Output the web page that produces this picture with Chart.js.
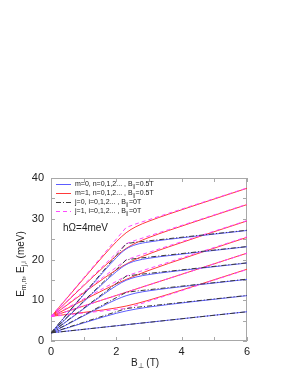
<!DOCTYPE html>
<html>
<head>
<meta charset="utf-8">
<script src="https://cdn.jsdelivr.net/npm/chart.js@4/dist/chart.umd.min.js"></script>
<style>
    body { margin: 0; background: #ffffff; }
    canvas { display: block; }
</style>
</head>
<body>
<canvas id="grafico" width="298" height="385"></canvas>
<script>

// DATOS
const campoB = [0, 1, 1.6, 2, 2.3, 2.6, 3, 3.6, 4.5, 6];

// m=0, n=0..5, B||=0.5T
const nivelesM0 = [
    [2.00, 2.86, 3.38, 3.73, 3.99, 4.25, 4.59, 5.11, 5.89, 7.18],
    [1.95, 4.44, 5.90, 6.80, 7.37, 7.84, 8.34, 8.96, 9.80, 11.13],
    [1.95, 6.17, 8.65, 10.18, 11.11, 11.76, 12.32, 12.95, 13.79, 15.13],
    [1.95, 7.89, 11.40, 13.58, 14.90, 15.70, 16.31, 16.95, 17.79, 19.13],
    [1.95, 9.62, 14.17, 17.02, 18.73, 19.68, 20.31, 20.95, 21.79, 23.13],
    [1.95, 11.35, 16.92, 20.45, 22.57, 23.65, 24.30, 24.95, 25.79, 27.12]
];

// m=1, n=0..5, B||=0.5T
const nivelesM1 = [
    [6.05, 7.01, 7.63, 8.12, 8.57, 9.14, 10.03, 11.48, 13.76, 17.61],
    [6.00, 8.59, 10.15, 11.18, 11.96, 12.74, 13.78, 15.33, 17.66, 21.55],
    [5.95, 10.04, 12.48, 14.02, 15.10, 16.10, 17.34, 19.04, 21.48, 25.44],
    [5.95, 11.82, 15.29, 17.45, 18.88, 20.07, 21.38, 23.09, 25.52, 29.46],
    [5.95, 13.57, 18.09, 20.91, 22.72, 24.07, 25.41, 27.12, 29.53, 33.48],
    [5.95, 15.31, 20.87, 24.36, 26.56, 28.05, 29.42, 31.13, 33.54, 37.48]
];

// j=0, i=0..5, B||=0T
const nivelesJ0 = [
    [2, 2.86, 3.38, 3.73, 3.99, 4.25, 4.59, 5.11, 5.89, 7.18],
    [2, 4.59, 6.15, 7.18, 7.96, 8.25, 8.59, 9.11, 9.89, 11.18],
    [2, 6.32, 8.91, 10.64, 11.94, 12.25, 12.59, 13.11, 13.89, 15.18],
    [2, 8.05, 11.68, 14.10, 15.92, 16.25, 16.59, 17.11, 17.89, 19.18],
    [2, 9.78, 14.44, 17.55, 19.89, 20.25, 20.59, 21.11, 21.89, 23.18],
    [2, 11.50, 17.21, 21.01, 23.87, 24.25, 24.59, 25.11, 25.89, 27.18]
];

// j=1, i=0..5, B||=0T
const nivelesJ1 = [
    [6, 6.86, 7.38, 7.73, 7.99, 8.74, 9.78, 11.33, 13.66, 17.55],
    [6, 8.59, 10.15, 11.18, 11.96, 12.74, 13.78, 15.33, 17.66, 21.55],
    [6, 10.32, 12.91, 14.64, 15.94, 16.74, 17.78, 19.33, 21.66, 25.55],
    [6, 12.05, 15.68, 18.10, 19.91, 20.74, 21.78, 23.33, 25.66, 29.55],
    [6, 13.78, 18.44, 21.55, 23.88, 24.74, 25.78, 27.33, 29.66, 33.55],
    [6, 15.50, 21.21, 25.01, 27.86, 28.74, 29.78, 31.33, 33.66, 37.55]
];

const ticksX = [0, 1, 2, 3, 4, 5, 6];
const ticksY = [0, 5, 10, 15, 20, 25, 30, 35, 40];

const fuente = '"Liberation Sans", Arial, sans-serif';

const colorAzul = '#5c5cff';
const colorRojo = '#ff3a3a';
const colorGris = '#3a3a3a';
const colorMagenta = '#ff48ff';

function serie(valores) {
    return valores.map((e, i) => ({ x: campoB[i], y: e }));
}

const datasets = [];

// discontinuas encima
nivelesJ0.forEach(v => {
    datasets.push({
        data: serie(v),
        borderColor: colorGris,
        borderDash: [5, 2, 1, 2],
        borderWidth: 1,
        pointRadius: 0,
        tension: 0,
        order: 0
    });
});

nivelesJ1.forEach(v => {
    datasets.push({
        data: serie(v),
        borderColor: colorMagenta,
        borderDash: [4, 3],
        borderWidth: 1,
        pointRadius: 0,
        tension: 0,
        order: 0
    });
});

nivelesM0.forEach(v => {
    datasets.push({
        data: serie(v),
        borderColor: colorAzul,
        borderWidth: 1,
        pointRadius: 0,
        cubicInterpolationMode: 'monotone',
        order: 1
    });
});

nivelesM1.forEach(v => {
    datasets.push({
        data: serie(v),
        borderColor: colorRojo,
        borderWidth: 1,
        pointRadius: 0,
        cubicInterpolationMode: 'monotone',
        order: 1
    });
});

// texto con subindices: partes alternan normal / subindice
function textoSub(ctx, partes, x, y, tam, centrar) {

    let ancho = 0;

    partes.forEach((p, i) => {
        ctx.font = (i % 2 ? tam * 0.7 : tam) + 'px ' + fuente;
        ancho += ctx.measureText(p).width;
    });

    let cx = centrar ? x - ancho / 2 : x;

    partes.forEach((p, i) => {
        const sub = i % 2 === 1;
        ctx.font = (sub ? tam * 0.7 : tam) + 'px ' + fuente;
        ctx.fillText(p, cx, sub ? y + tam * 0.35 : y);
        cx += ctx.measureText(p).width;
    });
}

const decoracion = {

    id: 'decoracion',

    beforeDatasetsDraw(chart) {

        const ctx = chart.ctx;
        const area = chart.chartArea;
        const sx = chart.scales.x;
        const sy = chart.scales.y;

        ctx.save();
        ctx.strokeStyle = '#a8a8a8';
        ctx.lineWidth = 1;

        ctx.strokeRect(
            area.left + 0.5,
            area.top + 0.5,
            area.right - area.left - 1,
            area.bottom - area.top - 1
        );

        ctx.beginPath();

        ticksX.forEach(b => {
            const px = Math.round(sx.getPixelForValue(b)) + 0.5;
            ctx.moveTo(px, area.bottom);
            ctx.lineTo(px, area.bottom - 4);
            ctx.moveTo(px, area.top);
            ctx.lineTo(px, area.top + 4);
        });

        ticksY.forEach(e => {
            const py = Math.round(sy.getPixelForValue(e)) + 0.5;
            ctx.moveTo(area.left, py);
            ctx.lineTo(area.left + 4, py);
            ctx.moveTo(area.right, py);
            ctx.lineTo(area.right - 4, py);
        });

        ctx.stroke();
        ctx.restore();
    },

    afterDraw(chart) {

        const ctx = chart.ctx;

        ctx.save();
        ctx.fillStyle = '#222222';
        ctx.textBaseline = 'middle';
        ctx.textAlign = 'left';

        // LEYENDA
        const filas = [
            { color: colorAzul, dash: [], texto: ['m=0, n=0,1,2... , B', '\u2225', '=0.5T'] },
            { color: colorRojo, dash: [], texto: ['m=1, n=0,1,2... , B', '\u2225', '=0.5T'] },
            { color: colorGris, dash: [5, 2, 1, 2], texto: ['j=0, i=0,1,2... , B', '\u2225', '=0T'] },
            { color: colorMagenta, dash: [4, 3], texto: ['j=1, i=0,1,2... , B', '\u2225', '=0T'] }
        ];

        filas.forEach((f, i) => {

            const y = 184 + i * 9;

            ctx.strokeStyle = f.color;
            ctx.lineWidth = 1;
            ctx.setLineDash(f.dash);
            ctx.beginPath();
            ctx.moveTo(56, y + 0.5);
            ctx.lineTo(71, y + 0.5);
            ctx.stroke();
            ctx.setLineDash([]);

            textoSub(ctx, f.texto, 75, y, 7, false);
        });

        // ETIQUETA
        ctx.font = '10px ' + fuente;
        ctx.fillText('h\u03A9=4meV', 63, 228);

        // EJE X
        textoSub(ctx, ['B', '\u22A5', ' (T)'], 145, 363, 10, true);

        // EJE Y
        ctx.translate(21, 264);
        ctx.rotate(-Math.PI / 2);
        textoSub(ctx, ['E', 'm,n', ', E', 'j,i', ' (meV)'], 0, 0, 10, true);

        ctx.restore();
    }
};

new Chart(

    document.getElementById('grafico'),

    {
        type: 'line',

        data: { datasets: datasets },

        options: {

            responsive: false,
            animation: false,
            devicePixelRatio: 1,

            layout: {
                padding: { left: 0, top: 178, right: 51, bottom: 0 }
            },

            plugins: {
                legend: { display: false },
                tooltip: { enabled: false }
            },

            scales: {

                x: {
                    type: 'linear',
                    min: 0,
                    max: 6,
                    grid: { display: false, drawTicks: false },
                    border: { display: false },
                    ticks: {
                        stepSize: 2,
                        padding: 4,
                        color: '#222222',
                        font: { family: fuente, size: 11 }
                    },
                    afterFit: s => { s.height = 44; }
                },

                y: {
                    min: 0,
                    max: 40,
                    grid: { display: false, drawTicks: false },
                    border: { display: false },
                    ticks: {
                        stepSize: 10,
                        padding: 7,
                        color: '#222222',
                        font: { family: fuente, size: 11 }
                    },
                    afterFit: s => { s.width = 51; }
                }
            }
        },

        plugins: [decoracion]
    }
);

</script>
</body>
</html>
